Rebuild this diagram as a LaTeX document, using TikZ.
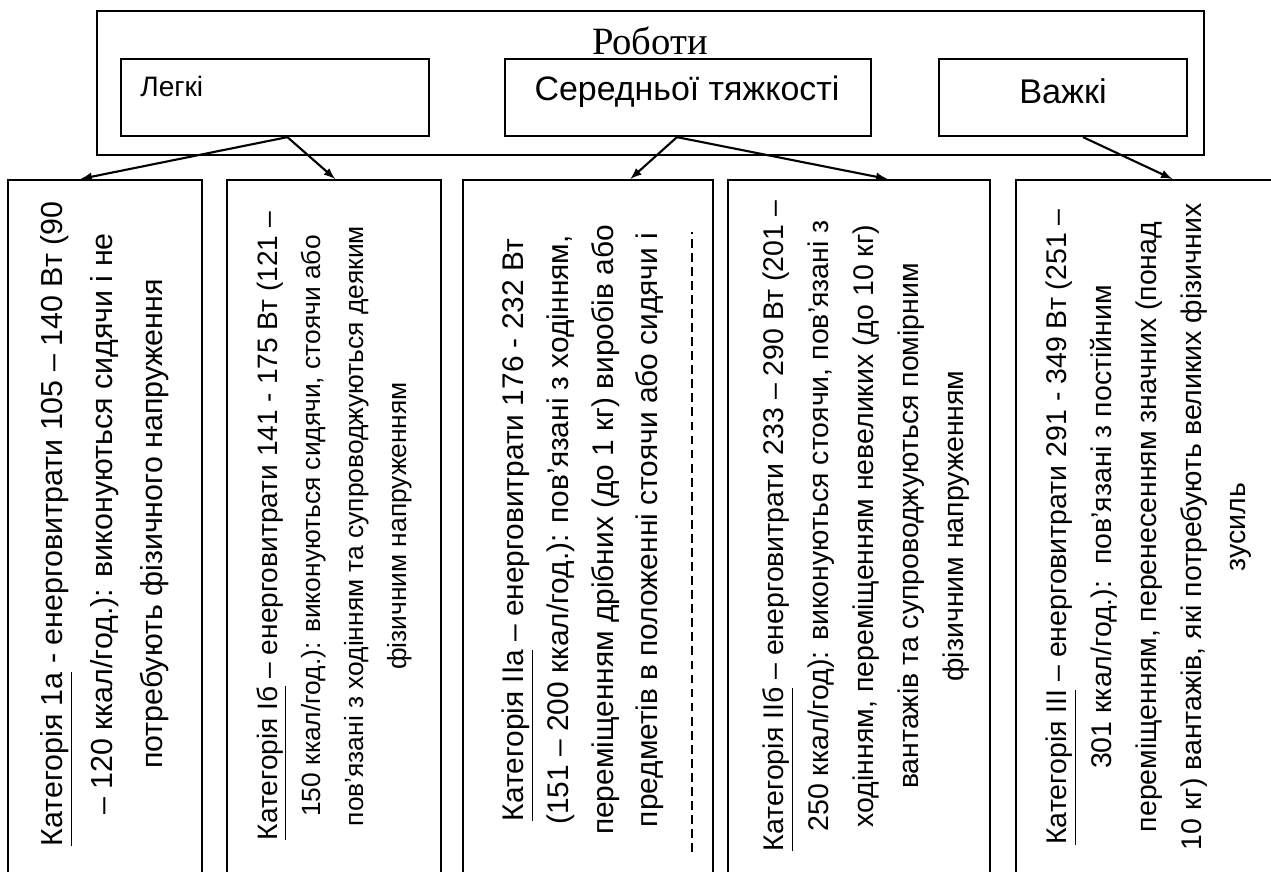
\documentclass[tikz,border=0pt]{standalone}
\usepackage{fontspec}
\setmainfont{Liberation Sans}
\newfontfamily\titlefont{Liberation Serif}
\usetikzlibrary{calc}
\tikzset{>=latex}

\begin{document}
\begin{tikzpicture}[x=0.02cm,y=-0.02cm,
  box/.style={draw,line width=1.3pt,inner sep=0pt},
  cattxt/.style={rotate=90,align=center,inner sep=0pt},
  arr/.style={->,line width=1.2pt}]
\useasboundingbox (0,0) rectangle (1271,872);
% top block
\node[box,minimum width=22.14cm,minimum height=2.88cm] (R) at (650.5,83) {};
\node[inner sep=0pt] (Rt) at (650,41) {\titlefont\fontsize{22}{24}\selectfont Роботи};
\node[box,minimum width=6.16cm,minimum height=1.54cm] (L) at (275,97.5) {};
\node[box,minimum width=7.32cm,minimum height=1.54cm] (S) at (688,97.5) {};
\node[box,minimum width=4.96cm,minimum height=1.54cm] (V) at (1063,97.5) {};
\node[anchor=west,inner sep=0pt] (Lt) at (140,86) {\fontsize{16}{18}\selectfont Легкі};
\node[inner sep=0pt] (St) at (687,92) {\fontsize{19.3}{21}\selectfont Середньої тяжкості};
\node[inner sep=0pt] (Vt) at (1063,91) {\fontsize{19.5}{21}\selectfont Важкі};
% categories
\node[box,minimum width=3.88cm,minimum height=14.4cm] (C1) at (105,540) {};
\node[box,minimum width=4.28cm,minimum height=14.4cm] (C2) at (334,540) {};
\node[box,minimum width=5.0cm,minimum height=14.4cm] (C3) at (588,540) {};
\node[box,minimum width=5.24cm,minimum height=14.4cm] (C4) at (859,540) {};
\node[box,minimum width=5.48cm,minimum height=14.4cm] (C5) at (1153,540) {};
\node[cattxt,font=\fontsize{17.3}{28.5}\selectfont] (T1) at (105,524) {\underline{Категорія 1а} - енерговитрати 105 – 140 Вт (90\\ – 120 ккал/год.): виконуються сидячи і не\\ потребують фізичного напруження};
\node[cattxt,font=\fontsize{15}{24.5}\selectfont] (T2) at (334,526) {{\fontsize{16}{24.5}\selectfont\underline{Категорія Іб} – енерговитрати 141 - 175 Вт (121 –}\\ 150 ккал/год.): виконуються сидячи, стоячи або\\ пов'язані з ходінням та супроводжуються деяким\\ фізичним напруженням};
\node[cattxt,font=\fontsize{17}{25.5}\selectfont] (T3) at (583,530) {\underline{Категорія IIа} – енерговитрати 176 - 232 Вт\\ (151 – 200 ккал/год.): пов'язані з ходінням,\\ переміщенням дрібних (до 1 кг) виробів або\\ предметів в положенні стоячи або сидячи і};
\draw[dash pattern=on 5pt off 3pt,line width=0.8pt] (692,852) -- (692,232);
\node[cattxt,font=\fontsize{16.2}{25.5}\selectfont] (T4) at (866,526) {\underline{Категорія IIб} – енерговитрати 233 – 290 Вт (201 –\\ 250 ккал/год): виконуються стоячи, пов'язані з\\ ходінням, переміщенням невеликих (до 10 кг)\\ вантажів та супроводжуються помірним\\ фізичним напруженням};
\node[cattxt,font=\fontsize{16.2}{25.5}\selectfont] (T5) at (1149,527) {\underline{Категорія III} – енерговитрати 291 - 349 Вт (251 –\\ 301 ккал/год.):\ \ пов'язані з постійним\\ переміщенням, перенесенням значних (понад\\ 10 кг) вантажів, які потребують великих фізичних\\ зусиль};
% arrows
\draw[arr] ($(L.south west)!0.54!(L.south east)$) -- ($(C1.north west)!0.376!(C1.north east)$);
\draw[arr] ($(L.south west)!0.54!(L.south east)$) -- ($(C2.north west)!0.505!(C2.north east)$);
\draw[arr] ($(S.south west)!0.47!(S.south east)$) -- ($(C3.north west)!0.668!(C3.north east)$);
\draw[arr] ($(S.south west)!0.47!(S.south east)$) -- ($(C4.north west)!0.607!(C4.north east)$);
\draw[arr] ($(V.south west)!0.58!(V.south east)$) -- ($(C5.north west)!0.57!(C5.north east)$);
\end{tikzpicture}
\end{document}
